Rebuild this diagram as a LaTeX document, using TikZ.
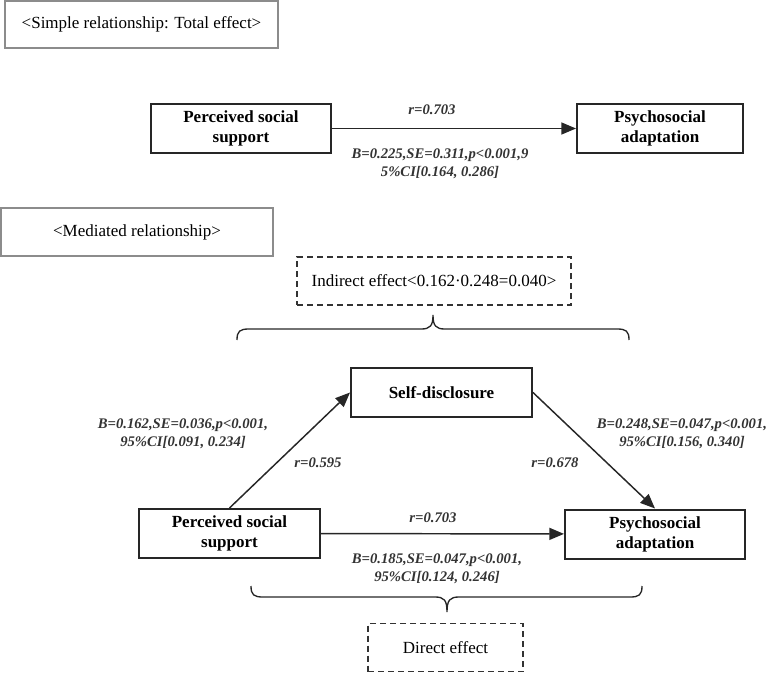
\documentclass[tikz,border=0pt]{standalone}
\usepackage{fontspec}
\setmainfont{Liberation Serif}
\usetikzlibrary{arrows.meta}
\def\PX{0.75pt}
\tikzset{
  lblbox/.style={draw=black!45,line width=0.8pt,inner sep=0pt,align=center,font=\fontsize{12.75}{15}\selectfont},
  varbox/.style={draw=black!85,line width=1.5pt,inner sep=0pt,align=center,minimum width=180*\PX,minimum height=49*\PX,font=\bfseries\fontsize{12.75}{15}\selectfont},
  dashbox/.style={draw=black!80,line width=1.2pt,dash pattern=on 4.5pt off 3pt,inner sep=0pt,align=center,minimum height=48*\PX,font=\fontsize{12.75}{15}\selectfont},
  stat/.style={inner sep=0pt,align=center,font=\bfseries\itshape\fontsize{11}{13.5}\selectfont,text=black!80},
  arr/.style={draw=black!85,line width=1.1pt,-{Triangle[length=11pt,width=9pt]}},
  brc/.style={draw=black!85,line width=1pt}
}
\begin{document}
\begin{tikzpicture}[x=0.75pt,y=-0.75pt]
\useasboundingbox (0,0) rectangle (767,674);
% label boxes
\node[lblbox,minimum width=273*\PX,minimum height=47*\PX] (lab1) at (141.5,24.5) {<Simple relationship: Total effect>};
\node[lblbox,minimum width=272*\PX,minimum height=48*\PX] (lab2) at (137,232) {<Mediated relationship>};
% simple model
\node[varbox] (pss1) at (241,128.5) {Perceived social\\support};
\node[varbox,minimum width=166*\PX] (pa1) at (660,128.5) {Psychosocial\\adaptation};
\draw[arr] (pss1) -- (pa1);
\node[stat] (r1) at (432,110) {r=0.703};
\node[stat] (b1) at (440,164) {B=0.225,SE=0.311,p<0.001,9\\5\%CI[0.164, 0.286]};
% mediated model
\node[dashbox,minimum width=274*\PX] (ind) at (434,281) {Indirect effect<0.162·0.248=0.040>};
\coordinate (tb1) at (237,340);
\coordinate (tb2) at (629,340);
\coordinate (tbt) at (433,315);
\draw[brc] (tb1) .. controls (237,331) and (240,329) .. (249,329) -- (421,329)
  .. controls (430,329) and (433,326) .. (tbt)
  .. controls (433,326) and (436,329) .. (445,329) -- (617,329)
  .. controls (626,329) and (629,331) .. (tb2);
\node[varbox,minimum width=181*\PX] (sd) at (441.5,392.5) {Self-disclosure};
\node[varbox,minimum width=181*\PX] (pss2) at (229.5,533.5) {Perceived social\\support};
\node[varbox] (pa2) at (655,534) {Psychosocial\\adaptation};
\draw[arr] (pss2.north) -- (sd.west);
\draw[arr] (sd.east) -- (pa2.north);
\draw[arr] (pss2) -- (pa2);
\node[stat] (b2) at (183,434) {B=0.162,SE=0.036,p<0.001,\\95\%CI[0.091, 0.234]};
\node[stat] (r2) at (318,463) {r=0.595};
\node[stat] (b3) at (682,434) {B=0.248,SE=0.047,p<0.001,\\95\%CI[0.156, 0.340]};
\node[stat] (r3) at (555,463) {r=0.678};
\node[stat] (r4) at (433,518) {r=0.703};
\node[stat] (b4) at (437,569) {B=0.185,SE=0.047,p<0.001,\\95\%CI[0.124, 0.246]};
\coordinate (bb1) at (251,586);
\coordinate (bb2) at (642,586);
\coordinate (bbt) at (447,612);
\draw[brc] (bb1) .. controls (251,595) and (254,597) .. (263,597) -- (435,597)
  .. controls (444,597) and (447,600) .. (bbt)
  .. controls (447,600) and (450,597) .. (459,597) -- (630,597)
  .. controls (639,597) and (642,595) .. (bb2);
\node[dashbox,minimum width=155*\PX] (dir) at (445.5,647.5) {Direct effect};
\end{tikzpicture}
\end{document}
